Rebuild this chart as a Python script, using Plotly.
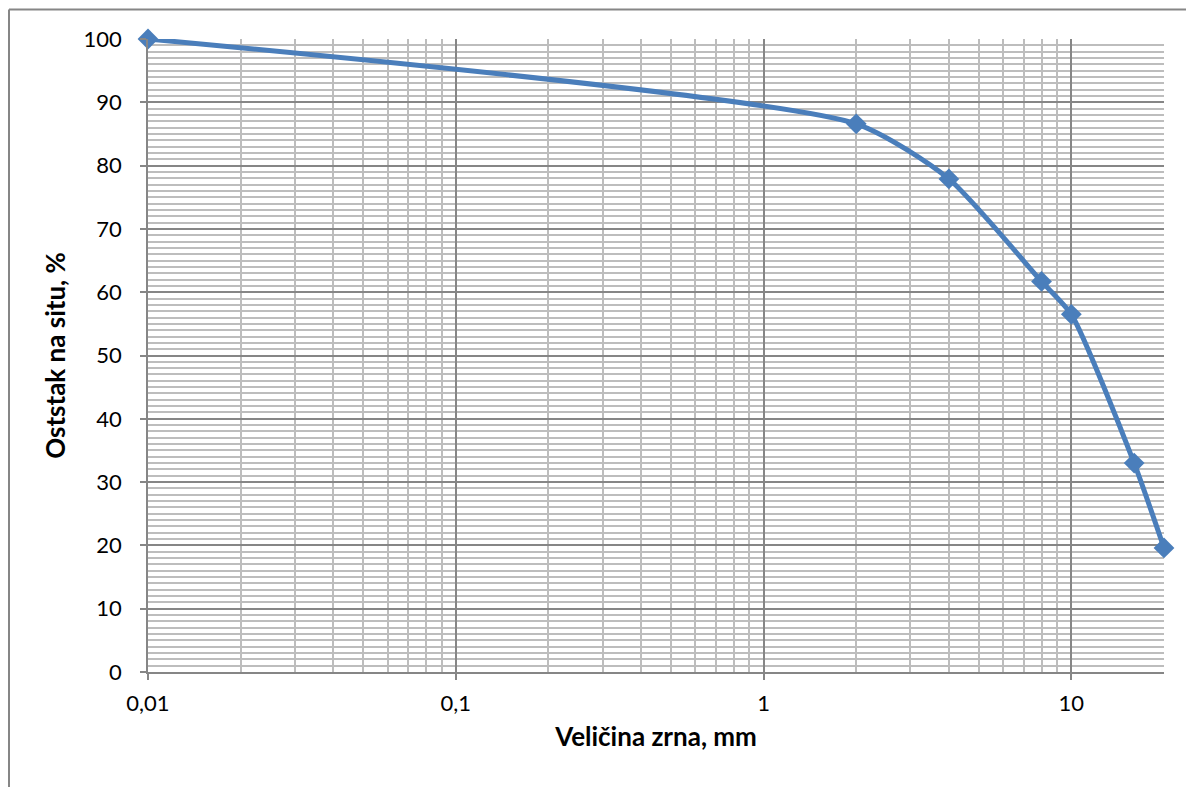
import plotly.graph_objects as go

# Data
grain_size_mm = [0.01, 2, 4, 8, 10, 16, 20]
residue_pct = [100, 86.6, 77.9, 61.7, 56.5, 33.0, 19.6]

x_tick_vals = [0.01, 0.1, 1, 10]
x_tick_text = ["0,01", "0,1", "1", "10"]
y_tick_vals = [0, 10, 20, 30, 40, 50, 60, 70, 80, 90, 100]

minor_x = [k * 10 ** d for d in (-2, -1, 0) for k in range(2, 10)] + [20]

FONT = "Lato, 'Liberation Sans', sans-serif"
BLUE = "#4A7EBB"
MAJOR = "#868686"
MINOR = "#BDBDBD"

# page body has an 8px margin; figure is sized/placed to compensate
OFF = 8
W, H = 1194 - OFF, 787 - OFF
L, T = 148 - OFF, 39 - OFF
R = 1194 - 1164
B = 787 - 672

fig = go.Figure()
fig.add_trace(go.Scatter(
    x=grain_size_mm, y=residue_pct,
    mode="lines+markers",
    line=dict(color=BLUE, width=5, shape="spline", smoothing=0.6),
    marker=dict(symbol="diamond", size=16, color=BLUE),
    showlegend=False,
    cliponaxis=False,
))

fig.update_xaxes(
    type="log", range=[-2, 1.30103],
    tickmode="array", tickvals=x_tick_vals, ticktext=x_tick_text,
    ticks="outside", ticklen=6, tickcolor=MAJOR, tickwidth=1.6,
    showgrid=True, gridcolor=MAJOR, gridwidth=1.8,
    minor=dict(tickmode="array", tickvals=minor_x, showgrid=True,
               gridcolor=MINOR, gridwidth=1.8, ticks=""),
    showline=True, linecolor=MAJOR, linewidth=1.6,
    tickfont=dict(family=FONT, size=22, color="black"),
    ticklabelstandoff=5,
    title=dict(text="<b>Veličina zrna, mm</b>", font=dict(family=FONT, size=26, color="black"), standoff=13),
    zeroline=False,
)
fig.update_yaxes(
    range=[0, 100],
    tickmode="array", tickvals=y_tick_vals,
    ticks="outside", ticklen=6, tickcolor=MAJOR, tickwidth=1.6,
    showgrid=True, gridcolor=MAJOR, gridwidth=1.8,
    minor=dict(dtick=1, showgrid=True, gridcolor=MINOR, gridwidth=1.8, ticks=""),
    showline=True, linecolor=MAJOR, linewidth=1.6,
    tickfont=dict(family=FONT, size=22, color="black"),
    ticklabelstandoff=14,
    title=dict(text="<b>Oststak na situ, %</b>", font=dict(family=FONT, size=26, color="black"), standoff=10),
    zeroline=False,
)

pw, ph = W - L - R, H - T - B
def px(xp):
    return (xp - OFF - L) / pw
def py(yp):
    return (H - B - (yp - OFF)) / ph

fig.add_shape(type="line", xref="paper", yref="paper",
              x0=px(9), x1=px(1193), y0=py(9.5), y1=py(9.5),
              line=dict(color=MAJOR, width=2))
fig.add_shape(type="line", xref="paper", yref="paper",
              x0=px(9), x1=px(9), y0=py(9.5), y1=py(800),
              line=dict(color=MAJOR, width=2))

fig.update_layout(
    width=W, height=H,
    margin=dict(l=L, r=R, t=T, b=B),
    paper_bgcolor="white", plot_bgcolor="white",
    font=dict(family=FONT, color="black"),
)

fig.write_html("out.html")
